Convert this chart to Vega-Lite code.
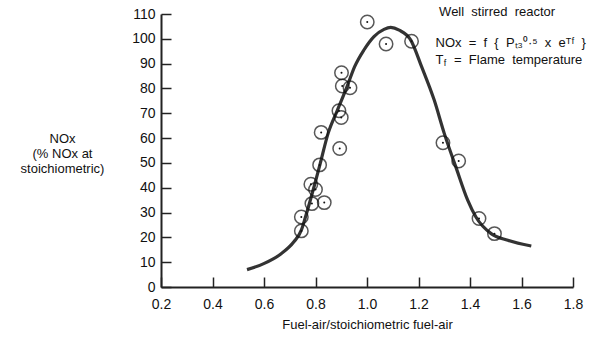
{
  "$schema": "https://vega.github.io/schema/vega-lite/v6.json",
  "width": 412,
  "height": 273,
  "autosize": {"type": "none"},
  "padding": {"left": 161, "top": 14, "right": 18, "bottom": 50},
  "background": "white",
  "config": {
    "view": {"stroke": null},
    "font": "Liberation Sans",
    "axis": {"grid": false, "domainColor": "#222", "tickColor": "#222", "labelColor": "#111", "titleColor": "#111", "labelFont": "Liberation Sans", "titleFont": "Liberation Sans", "titleFontWeight": "normal"}
  },
  "datasets": {
    "points": [
      {"ratio": 1.001, "nox": 106.8},
      {"ratio": 1.074, "nox": 97.9},
      {"ratio": 1.173, "nox": 99.0},
      {"ratio": 0.901, "nox": 86.3},
      {"ratio": 0.904, "nox": 81.0},
      {"ratio": 0.934, "nox": 80.3},
      {"ratio": 0.891, "nox": 71.0},
      {"ratio": 0.900, "nox": 68.3},
      {"ratio": 0.822, "nox": 62.3},
      {"ratio": 0.894, "nox": 55.8},
      {"ratio": 0.816, "nox": 49.2},
      {"ratio": 0.782, "nox": 41.4},
      {"ratio": 0.800, "nox": 39.3},
      {"ratio": 0.786, "nox": 33.6},
      {"ratio": 0.834, "nox": 34.0},
      {"ratio": 0.745, "nox": 28.2},
      {"ratio": 0.745, "nox": 22.6},
      {"ratio": 1.295, "nox": 58.1},
      {"ratio": 1.356, "nox": 50.8},
      {"ratio": 1.435, "nox": 27.6},
      {"ratio": 1.495, "nox": 21.5}
    ],
    "curve": [
      {"ratio": 0.534, "nox": 7.0},
      {"ratio": 0.599, "nox": 9.4},
      {"ratio": 0.664, "nox": 13.2},
      {"ratio": 0.716, "nox": 18.2},
      {"ratio": 0.745, "nox": 22.9},
      {"ratio": 0.761, "nox": 28.2},
      {"ratio": 0.797, "nox": 41.4},
      {"ratio": 0.817, "nox": 49.2},
      {"ratio": 0.849, "nox": 61.9},
      {"ratio": 0.884, "nox": 71.0},
      {"ratio": 0.921, "nox": 80.3},
      {"ratio": 0.952, "nox": 88.8},
      {"ratio": 0.988, "nox": 95.5},
      {"ratio": 1.027, "nox": 100.9},
      {"ratio": 1.066, "nox": 103.8},
      {"ratio": 1.092, "nox": 104.6},
      {"ratio": 1.125, "nox": 103.5},
      {"ratio": 1.170, "nox": 99.5},
      {"ratio": 1.212, "nox": 88.8},
      {"ratio": 1.261, "nox": 75.3},
      {"ratio": 1.300, "nox": 61.9},
      {"ratio": 1.345, "nox": 48.4},
      {"ratio": 1.391, "nox": 35.0},
      {"ratio": 1.423, "nox": 28.2},
      {"ratio": 1.482, "nox": 21.5},
      {"ratio": 1.547, "nox": 18.8},
      {"ratio": 1.638, "nox": 16.5}
    ],
    "notes": [
      {"label": "Well\u00a0\u00a0stirred\u00a0\u00a0reactor", "ratio": 1.28, "nox": 110.8},
      {"label": "NOx\u00a0\u00a0=\u00a0\u00a0f\u00a0\u00a0{\u00a0\u00a0P\u209c\u2083\u2070\u00b7\u2075\u00a0\u00a0x\u00a0\u00a0e\u1d40\u1da0\u00a0\u00a0}", "ratio": 1.266, "nox": 98.2},
      {"label": "T", "ratio": 1.266, "nox": 91.6},
      {"label": "=\u00a0\u00a0Flame\u00a0\u00a0temperature", "ratio": 1.338, "nox": 91.6}
    ],
    "subs": [
      {"label": "f", "ratio": 1.298, "nox": 90.4}
    ]
  },
  "encoding": {
    "x": {"field": "ratio", "type": "quantitative",
      "scale": {"domain": [0.2, 1.8], "nice": false, "zero": false},
      "axis": {"values": [0.2, 0.4, 0.6, 0.8, 1.0, 1.2, 1.4, 1.6, 1.8], "format": ".1f", "title": "Fuel-air/stoichiometric fuel-air",
        "labelFontSize": 14, "titleFontSize": 13, "tickSize": -10, "labelPadding": 20, "titlePadding": 7, "domainWidth": 2, "tickWidth": 1.5, "labelFlush": false}},
    "y": {"field": "nox", "type": "quantitative",
      "scale": {"domain": [0, 110], "nice": false},
      "axis": {"values": [0, 10, 20, 30, 40, 50, 60, 70, 80, 90, 100, 110], "title": ["NOx", "(% NOx at", "stoichiometric)"],
        "labelFontSize": 14, "titleFontSize": 13, "tickSize": -10, "labelPadding": 16, "domainWidth": 2, "tickWidth": 1.5,
        "titleAngle": 0, "titleAlign": "center", "titleBaseline": "top", "titleX": -99, "titleY": 118, "titleLineHeight": 15, "labelFlush": false}}
  },
  "layer": [
    {"data": {"name": "curve"}, "mark": {"type": "line", "interpolate": "monotone", "color": "#333", "strokeWidth": 3.2, "clip": false}},
    {"data": {"name": "points"}, "mark": {"type": "point", "shape": "circle", "size": 180, "filled": false, "color": "#111", "strokeWidth": 1.5}},
    {"data": {"name": "points"}, "mark": {"type": "point", "shape": "circle", "size": 4, "filled": true, "color": "#111", "opacity": 1}},
    {"data": {"name": "notes"}, "mark": {"type": "text", "align": "left", "baseline": "middle", "fontSize": 13, "color": "#111", "clip": false}, "encoding": {"text": {"field": "label"}}},
    {"data": {"name": "subs"}, "mark": {"type": "text", "align": "left", "baseline": "middle", "fontSize": 9, "color": "#111", "clip": false}, "encoding": {"text": {"field": "label"}}}
  ]
}
